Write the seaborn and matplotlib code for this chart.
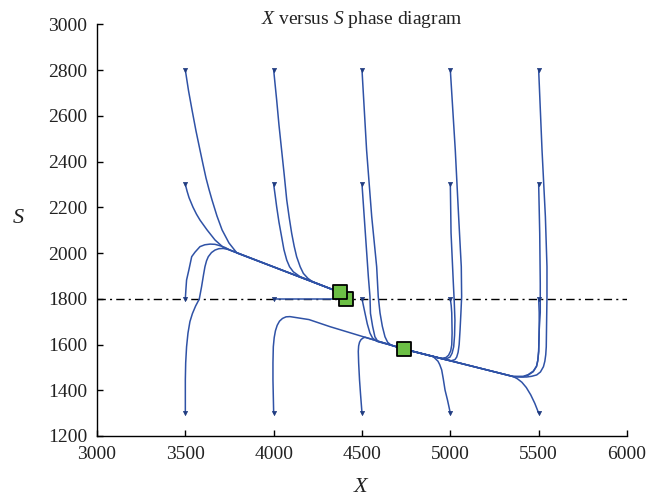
import matplotlib
matplotlib.use("Agg")
import matplotlib.pyplot as plt
import seaborn as sns
import pandas as pd

# ---------------- data ----------------
x_ticks = [3000, 3500, 4000, 4500, 5000, 5500, 6000]
s_ticks = [1200, 1400, 1600, 1800, 2000, 2200, 2400, 2600, 2800, 3000]
s_reference = 1800

eq_x = [4412, 4375, 4737]
eq_s = [1800, 1828, 1580]

start_x = [3500, 4000, 4500, 5000, 5500] * 4
start_s = [2800] * 5 + [2300] * 5 + [1800] * 5 + [1300] * 5

# trajectories starting at X = 3500
a1_x = [3500, 3518, 3538, 3560, 3583, 3600, 3617, 3634, 3651, 3679, 3708, 3747, 3792, 4375]
a1_s = [2800, 2710, 2625, 2535, 2450, 2388, 2328, 2278, 2232, 2162, 2101, 2044, 2000, 1828]
a2_x = [3500, 3510, 3521, 3543, 3563, 3583, 3623, 3668, 3713, 3764, 4375]
a2_s = [2300, 2270, 2242, 2201, 2170, 2144, 2101, 2057, 2026, 2009, 1828]
a3_x = [3500, 3503, 3507, 3520, 3536, 3555, 3583, 3610, 3640, 3668, 3696, 3725, 3753, 4375]
a3_s = [1800, 1838, 1882, 1926, 1984, 2004, 2028, 2036, 2039, 2038, 2032, 2024, 2013, 1828]
a4_x = [3500, 3500, 3502, 3507, 3515, 3526, 3540, 3558, 3579, 3592, 3603, 3611, 3620, 3630, 3648, 3668, 3690, 3715, 3740, 3762, 4375]
a4_s = [1300, 1446, 1520, 1590, 1650, 1700, 1735, 1768, 1799, 1853, 1905, 1940, 1966, 1984, 2002, 2013, 2019, 2020, 2016, 2010, 1828]

# trajectories starting at X = 4000
b1_x = [4000, 4017, 4030, 4045, 4060, 4074, 4088, 4102, 4116, 4130, 4150, 4168, 4194, 4223, 4375]
b1_s = [2800, 2669, 2560, 2450, 2340, 2232, 2155, 2086, 2030, 1984, 1940, 1911, 1889, 1873, 1828]
b2_x = [4000, 4008, 4017, 4030, 4045, 4058, 4074, 4090, 4111, 4149, 4375]
b2_s = [2300, 2255, 2202, 2135, 2071, 2015, 1969, 1940, 1918, 1897, 1828]
b3_x = [4000, 4412]
b3_s = [1800, 1800]
b4_x = [4000, 3996, 3996, 3998, 4003, 4010, 4020, 4033, 4050, 4070, 4092, 4200, 4319, 4507, 4687, 4737]
b4_s = [1300, 1445, 1520, 1590, 1630, 1660, 1684, 1702, 1714, 1721, 1722, 1709, 1678, 1634, 1592, 1580]

# trajectories starting at X = 4500
c1_x = [4500, 4526, 4555, 4583, 4592, 4602, 4615, 4630, 4645, 4665, 4687, 4737]
c1_s = [2800, 2450, 2159, 1940, 1809, 1738, 1680, 1634, 1610, 1597, 1592, 1580]
c2_x = [4500, 4519, 4536, 4545, 4548, 4560, 4573, 4590, 4620, 4647, 4687, 4737]
c2_s = [2300, 2086, 1896, 1811, 1736, 1680, 1634, 1613, 1606, 1601, 1592, 1580]
c3_x = [4500, 4508, 4517, 4530, 4545, 4560, 4585, 4620, 4687, 4737]
c3_s = [1800, 1770, 1737, 1690, 1650, 1628, 1614, 1608, 1592, 1580]
c4_x = [4500, 4492, 4486, 4481, 4479, 4481, 4486, 4494, 4505, 4517, 4687, 4737]
c4_s = [1300, 1380, 1445, 1520, 1570, 1594, 1610, 1621, 1628, 1632, 1592, 1580]

# trajectories starting at X = 5000
d1_x = [5000, 5028, 5047, 5062, 5064, 5060, 5055, 5050, 5044, 5036, 5026, 5005, 4987, 4737]
d1_s = [2800, 2450, 2159, 1940, 1809, 1740, 1663, 1600, 1566, 1545, 1534, 1529, 1531, 1580]
d2_x = [5000, 5004, 5017, 5022, 5026, 5024, 5019, 5010, 4998, 4970, 4737]
d2_s = [2300, 2088, 1868, 1790, 1707, 1640, 1590, 1562, 1545, 1535, 1580]
d3_x = [5000, 5005, 5008, 5010, 5008, 5002, 4990, 4975, 4947, 4737]
d3_s = [1800, 1770, 1738, 1650, 1598, 1572, 1553, 1543, 1539, 1580]
d4_x = [5000, 4984, 4970, 4960, 4951, 4940, 4930, 4902, 4737]
d4_s = [1300, 1357, 1401, 1450, 1489, 1512, 1527, 1548, 1580]

# trajectories starting at X = 5500
e1_x = [5500, 5519, 5538, 5547, 5547, 5545, 5543, 5540, 5535, 5527, 5510, 5489, 5460, 5432, 5400, 5356, 4737]
e1_s = [2800, 2450, 2159, 1940, 1809, 1700, 1590, 1555, 1527, 1503, 1480, 1467, 1461, 1458, 1458, 1460, 1580]
e2_x = [5500, 5506, 5509, 5509, 5503, 5500, 5495, 5488, 5469, 5440, 5413, 5356, 4737]
e2_s = [2300, 2086, 1868, 1740, 1663, 1570, 1530, 1505, 1481, 1466, 1459, 1460, 1580]
e3_x = [5500, 5503, 5503, 5500, 5495, 5488, 5470, 5440, 5413, 5356, 4737]
e3_s = [1800, 1740, 1663, 1570, 1530, 1505, 1484, 1468, 1461, 1460, 1580]
e4_x = [5500, 5478, 5455, 5430, 5405, 5380, 5356, 4737]
e4_s = [1300, 1343, 1380, 1412, 1435, 1450, 1460, 1580]

trajectories = [
    (a1_x, a1_s), (a2_x, a2_s), (a3_x, a3_s), (a4_x, a4_s),
    (b1_x, b1_s), (b2_x, b2_s), (b3_x, b3_s), (b4_x, b4_s),
    (c1_x, c1_s), (c2_x, c2_s), (c3_x, c3_s), (c4_x, c4_s),
    (d1_x, d1_s), (d2_x, d2_s), (d3_x, d3_s), (d4_x, d4_s),
    (e1_x, e1_s), (e2_x, e2_s), (e3_x, e3_s), (e4_x, e4_s),
]

# ---------------- styling ----------------
sns.set_theme(style="white")
plt.rcParams["font.family"] = ["Liberation Serif", "DejaVu Serif"]
plt.rcParams["mathtext.fontset"] = "custom"
plt.rcParams["mathtext.it"] = "Liberation Serif:italic"
plt.rcParams["mathtext.rm"] = "Liberation Serif"

blue = "#2f52a6"
green = "#6cbf45"

rows = []
for i, (xs, ss) in enumerate(trajectories):
    for k, (xv, sv) in enumerate(zip(xs, ss)):
        rows.append({"traj": i, "order": k, "X": xv, "S": sv})
df = pd.DataFrame(rows)

fig = plt.figure(figsize=(6.6, 5.01), dpi=100)
ax = fig.add_axes([97 / 660, 65 / 501, 530 / 660, 411.7 / 501])

ax.axhline(s_reference, color="black", lw=1.0, linestyle=(0, (6, 3, 1.5, 3)), zorder=1)

sns.lineplot(data=df, x="X", y="S", units="traj", estimator=None, sort=False,
             color=blue, lw=1.1, ax=ax, legend=False, zorder=2)

starts = pd.DataFrame({"X": start_x, "S": start_s})
sns.scatterplot(data=starts, x="X", y="S", marker="v", s=9, color="#1f3b80",
                edgecolor="#1f3b80", linewidth=0.5, ax=ax, legend=False, zorder=3)

eq = pd.DataFrame({"X": eq_x, "S": eq_s})
sns.scatterplot(data=eq, x="X", y="S", marker="s", s=110, color=green,
                edgecolor="black", linewidth=1.3, ax=ax, legend=False, zorder=5)

ax.set_xlim(x_ticks[0], x_ticks[-1])
ax.set_ylim(s_ticks[0], s_ticks[-1])
ax.set_xticks(x_ticks)
ax.set_yticks(s_ticks)
ax.set_xticklabels([str(v) for v in x_ticks])
ax.set_yticklabels([str(v) for v in s_ticks])
sns.despine(ax=ax)
for sp in ["left", "bottom"]:
    ax.spines[sp].set_color("black")
    ax.spines[sp].set_linewidth(1.0)
ax.tick_params(direction="in", length=4, width=1, colors="black",
               labelsize=14, pad=7, left=True, bottom=True)
for lab in ax.get_xticklabels() + ax.get_yticklabels():
    lab.set_color("#222222")

ax.set_xlabel("$X$", fontsize=16, labelpad=11, color="#222222")
ax.set_ylabel("$S$", fontsize=16, rotation=0, color="#222222")
ax.yaxis.set_label_coords(-0.149, 0.505)

ax.text(0.5, 1.0, "$X$ versus $S$ phase diagram", transform=ax.transAxes,
        ha="center", va="baseline", fontsize=14, color="#222222")

fig.savefig("out.png", dpi=100)
